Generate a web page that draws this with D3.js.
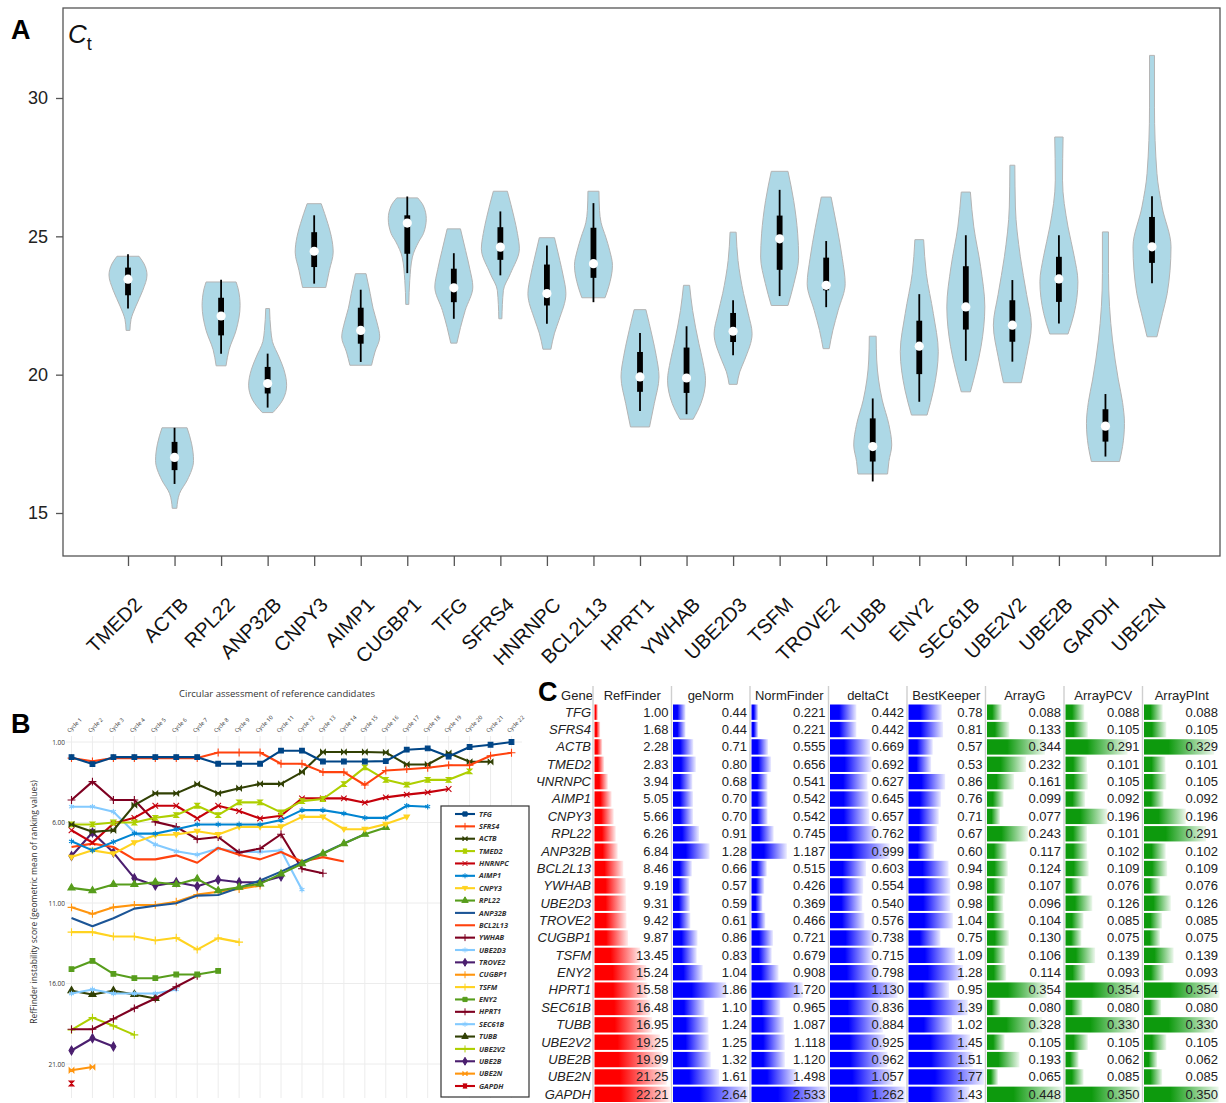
<!DOCTYPE html>
<html>
<head>
<meta charset="utf-8">
<script src="https://cdn.jsdelivr.net/npm/d3@7"></script>
<style>
  body { margin: 0; background: #fff; }
  svg { display: block; }
</style>
</head>
<body>
<svg id="fig" width="1226" height="1103"></svg>
<script>
// ---------- Panel A: Ct distributions ----------
const violinGenes = ["TMED2","ACTB","RPL22","ANP32B","CNPY3","AIMP1","CUGBP1","TFG","SFRS4","HNRNPC","BCL2L13",
  "HPRT1","YWHAB","UBE2D3","TSFM","TROVE2","TUBB","ENY2","SEC61B","UBE2V2","UBE2B","GAPDH","UBE2N"];
const ctTicks = [15, 20, 25, 30];
// outline of each violin: [Ct, relative width]
const violinProfiles = [
  [[21.6,.1],[22.0,.16],[22.45,.4],[23.05,.78],[23.6,1],[24.0,.85],[24.28,.58]],
  [[15.17,.12],[15.7,.26],[16.2,.68],[16.9,1],[17.5,.9],[18.08,.66]],
  [[20.32,.26],[20.9,.42],[21.6,.79],[22.5,1],[23.1,.9],[23.35,.79]],
  [[18.63,.28],[19.08,.79],[19.62,1],[20.2,.85],[20.64,.6],[21.2,.25],[21.6,.17],[22.39,.1]],
  [[23.15,.61],[23.77,.8],[24.43,1],[25.0,.9],[25.46,.72],[26.18,.37]],
  [[20.34,.57],[20.82,.75],[21.36,1],[21.9,.85],[22.4,.65],[22.93,.5],[23.65,.28]],
  [[22.54,.08],[23.4,.13],[24.25,.27],[24.8,.6],[25.1,.85],[25.64,1],[26.1,.85],[26.39,.55]],
  [[21.14,.16],[21.7,.35],[22.32,.6],[23.17,1],[23.8,.85],[24.49,.62],[25.27,.35]],
  [[22.02,.08],[23.05,.16],[23.65,.53],[24.55,1],[25.1,.9],[25.69,.72],[26.63,.37]],
  [[20.92,.21],[21.5,.4],[21.96,.63],[22.93,1],[23.6,.85],[24.13,.68],[24.95,.4]],
  [[22.78,.61],[23.17,.8],[23.95,1],[24.5,.85],[24.97,.65],[25.5,.4],[25.93,.32],[26.63,.29]],
  [[18.11,.5],[18.95,.75],[19.92,1],[20.7,.85],[21.36,.65],[22.35,.31]],
  [[18.39,.35],[18.95,.75],[19.8,1],[20.5,.85],[21.12,.65],[22.32,.32],[23.23,.16]],
  [[19.65,.21],[20.1,.35],[20.52,.6],[21.48,1],[22.2,.8],[22.93,.55],[24.13,.26],[25.15,.16]],
  [[22.5,.44],[23.29,.75],[24.25,1],[25.09,.95],[26.29,.74],[27.35,.44]],
  [[20.94,.16],[21.6,.35],[22.32,.63],[23.29,1],[24.2,.85],[25.33,.57],[26.42,.26]],
  [[16.41,.78],[16.86,.85],[17.46,1],[18.2,.85],[19.08,.5],[20.53,.21],[21.39,.18]],
  [[18.54,.41],[19.44,.75],[20.83,1],[22.21,.74],[23.66,.37],[24.88,.23]],
  [[19.38,.24],[20.2,.55],[21.01,.8],[22.45,1],[23.9,.78],[25.34,.42],[26.6,.24]],
  [[19.71,.47],[20.65,.75],[21.79,1],[22.9,.75],[24.26,.42],[26.06,.16],[27.57,.13]],
  [[21.47,.48],[22.21,.8],[23.36,1],[24.3,.8],[25.34,.48],[27.03,.19],[28.59,.22]],
  [[16.86,.74],[17.4,.9],[18.24,1],[19.0,.9],[19.81,.68],[21.25,.37],[23.66,.16],[25.16,.16]],
  [[21.37,.26],[22.2,.55],[22.93,.8],[24.62,1],[26.06,.53],[27.27,.26],[29.67,.13],[31.54,.13]]
];
const whiskerLow  = [22.39,16.05,20.76,18.81,23.29,20.46,23.67,22.02,23.59,21.84,22.62,18.69,18.57,20.7,22.84,22.44,16.14,19.02,20.5,20.47,21.85,17.04,23.3];
const whiskerHigh = [24.35,18.08,23.43,20.76,25.76,23.07,26.44,24.39,25.9,24.67,26.2,21.51,21.75,22.69,26.68,24.83,19.14,22.91,25.04,23.42,25.04,19.3,26.45];
const boxLow      = [22.87,16.55,21.42,19.32,23.89,21.12,24.37,22.62,24.15,22.5,23.5,19.38,19.34,21.18,23.79,23.05,16.86,20.02,21.63,21.19,22.63,17.58,24.04];
const boxHigh     = [23.87,17.57,22.78,20.28,25.15,22.42,25.76,23.83,25.33,23.98,25.31,20.82,20.98,22.23,25.75,24.23,18.42,21.95,23.92,22.69,24.26,18.75,25.7];
const medians     = [23.45,17.01,22.12,19.68,24.46,21.6,25.48,23.14,24.61,22.93,24.01,19.92,19.88,21.57,24.91,23.23,17.4,21.03,22.45,21.79,23.46,18.14,24.62];

// ---------- Panel B: circular assessment ----------
const legendGenes = ["TFG","SFRS4","ACTB","TMED2","HNRNPC","AIMP1","CNPY3","RPL22","ANP32B","BCL2L13","YWHAB",
  "UBE2D3","TROVE2","CUGBP1","TSFM","ENY2","HPRT1","SEC61B","TUBB","UBE2V2","UBE2B","UBE2N","GAPDH"];
const lineColors = ["#004586","#ff420e","#314004","#aecf00","#c5000b","#0084d1","#ffd320","#579d1c","#1c5596","#ff420e","#7e0021",
  "#83caff","#4b1f6f","#ff950e","#ffd320","#579d1c","#7e0021","#83caff","#314004","#aecf00","#4b1f6f","#ff950e","#c5000b"];
const markerKinds = ["square","plus","bowtie","hourglass","times","asterisk","tridown","triangle","none","none","plus",
  "asterisk","diamond","plus","plus","square","plus","asterisk","triangle","plus","diamond","bowtie","hourglass"];
const cycles = d3.range(1, 23);
const scoreTicks = [1, 6, 11, 16, 21];
// instability score per cycle (cycle 1 first), one row per legend gene
const cycleScores = [
  [1.94,2.37,1.94,1.94,1.94,1.94,1.94,2.35,2.35,2.35,1.54,1.54,2.21,2.21,2.21,2.19,1.48,1.4,1.9,1.31,1.17,1.0],
  [2.0,2.2,2.0,2.0,2.0,2.0,2.0,1.65,1.65,1.65,2.35,2.35,2.87,2.87,3.67,2.77,2.69,2.6,2.44,2.44,1.85,1.67],
  [6.12,6.58,6.48,4.92,4.19,4.19,3.62,4.19,3.87,3.6,3.6,2.87,1.62,1.62,1.62,1.65,2.4,2.4,1.69,2.23,2.23],
  [6.12,6.12,6.0,6.0,5.71,5.54,4.96,5.54,4.75,4.75,5.37,4.67,4.54,3.62,2.58,3.35,3.65,3.35,3.35,2.83],
  [6.48,7.25,6.06,5.71,4.96,4.96,5.75,4.96,5.29,5.75,5.58,4.5,4.5,4.5,4.77,4.44,4.27,4.13,3.92],
  [7.17,7.73,7.21,6.69,6.69,6.42,6.12,6.12,6.12,6.12,5.85,5.23,5.23,5.44,5.71,5.71,4.96,5.02],
  [8.15,7.73,7.94,7.25,6.79,6.75,6.54,6.75,6.27,6.27,6.27,5.65,5.65,6.42,6.42,6.1,5.65],
  [10.06,10.23,9.85,9.85,9.71,9.85,9.5,10.23,10.02,9.81,9.19,8.56,7.94,7.31,6.73,6.31],
  [11.93,12.45,11.95,11.35,11.17,11.02,10.54,10.5,10.05,9.6,9.05,8.45,7.9,7.3,6.72],
  [7.52,7.31,7.52,8.29,8.29,8.04,8.5,7.58,8.0,8.29,7.83,8.42,8.15,8.42],
  [4.6,3.46,4.6,4.6,5.96,6.27,7.04,6.9,7.87,7.62,6.73,8.87,9.15],
  [5.02,5.02,5.33,6.62,7.37,7.79,8.0,7.62,7.83,7.83,7.73,10.17],
  [8.08,6.62,7.87,9.46,9.92,9.71,9.96,9.56,9.71,9.71,9.35],
  [11.27,11.68,11.27,11.12,11.12,10.92,10.48,10.3,10.13,9.92],
  [12.81,12.81,13.08,13.08,13.33,13.16,13.9,13.18,13.43],
  [15.11,14.6,15.4,15.67,15.67,15.44,15.44,15.22],
  [18.84,18.84,18.2,17.54,16.93,16.2,15.53],
  [16.62,16.37,16.62,16.62,16.62,16.37],
  [16.45,16.68,16.45,16.68,16.93],
  [18.88,18.12,18.63,19.19],
  [20.16,19.4,19.91],
  [21.39,21.19],
  [22.21]
];

// ---------- Panel C: ranking table ----------
const tableGenes = ["TFG","SFRS4","ACTB","TMED2","ЧNRNPC","AIMP1","CNPY3","RPL22","ANP32B","BCL2L13","YWHAB","UBE2D3",
  "TROVE2","CUGBP1","TSFM","ENY2","HPRT1","SEC61B","TUBB","UBE2V2","UBE2B","UBE2N","GAPDH"];
const methods = ["RefFinder","geNorm","NormFinder","deltaCt","BestKeeper","ArrayG","ArrayPCV","ArrayPInt"];
const methodDigits = [2, 2, 3, 3, 2, 3, 3, 3];
const methodColors = ["red","blue","blue","blue","blue","green","green","green"];
const refFinder  = [1.00,1.68,2.28,2.83,3.94,5.05,5.66,6.26,6.84,8.46,9.19,9.31,9.42,9.87,13.45,15.24,15.58,16.48,16.95,19.25,19.99,21.25,22.21];
const geNorm     = [0.44,0.44,0.71,0.80,0.68,0.70,0.70,0.91,1.28,0.66,0.57,0.59,0.61,0.86,0.83,1.04,1.86,1.10,1.24,1.25,1.32,1.61,2.64];
const normFinder = [0.221,0.221,0.555,0.656,0.541,0.542,0.542,0.745,1.187,0.515,0.426,0.369,0.466,0.721,0.679,0.908,1.720,0.965,1.087,1.118,1.120,1.498,2.533];
const deltaCt    = [0.442,0.442,0.669,0.692,0.627,0.645,0.657,0.762,0.999,0.603,0.554,0.540,0.576,0.738,0.715,0.798,1.130,0.836,0.884,0.925,0.962,1.057,1.262];
const bestKeeper = [0.78,0.81,0.57,0.53,0.86,0.76,0.71,0.67,0.60,0.94,0.98,0.98,1.04,0.75,1.09,1.28,0.95,1.39,1.02,1.45,1.51,1.77,1.43];
const arrayG     = [0.088,0.133,0.344,0.232,0.161,0.099,0.077,0.243,0.117,0.124,0.107,0.096,0.104,0.130,0.106,0.114,0.354,0.080,0.328,0.105,0.193,0.065,0.448];
const arrayPCV   = [0.088,0.105,0.291,0.101,0.105,0.092,0.196,0.101,0.102,0.109,0.076,0.126,0.085,0.075,0.139,0.093,0.354,0.080,0.330,0.105,0.062,0.085,0.350];
const arrayPInt  = [0.088,0.105,0.329,0.101,0.105,0.092,0.196,0.291,0.102,0.109,0.076,0.126,0.085,0.075,0.139,0.093,0.354,0.080,0.330,0.105,0.062,0.085,0.350];
const methodValues = [refFinder, geNorm, normFinder, deltaCt, bestKeeper, arrayG, arrayPCV, arrayPInt];

const svg = d3.select("#fig");
const sans = "'Liberation Sans', Arial, sans-serif";

function panelLetter(txt, x, y) {
  svg.append("text").attr("x", x).attr("y", y)
    .style("font-family", sans).style("font-size", "27px").style("font-weight", "bold")
    .text(txt);
}

// ================= Panel A =================
const gA = svg.append("g");
const xA = d3.scalePoint().domain(violinGenes).range([128, 1152]);
const yA = d3.scaleLinear().domain([15, 30]).range([513, 98]);
const halfMax = 19;

gA.append("rect")
  .attr("x", 63).attr("y", 8).attr("width", 1157).attr("height", 548)
  .attr("fill", "none").attr("stroke", "#555").attr("stroke-width", 1.3);

const leftAxis = gA.append("g")
  .attr("transform", "translate(63,0)")
  .call(d3.axisLeft(yA).tickValues(ctTicks).tickSize(7).tickPadding(8));
leftAxis.select(".domain").remove();
leftAxis.selectAll("line").attr("stroke", "#555").attr("stroke-width", 1.3);
leftAxis.selectAll("text").style("font-family", sans).style("font-size", "18px").attr("fill", "#222");

const bottomAxis = gA.append("g")
  .attr("transform", "translate(0,556)")
  .call(d3.axisBottom(xA).tickSize(10).tickFormat(""));
bottomAxis.select(".domain").remove();
bottomAxis.selectAll("line").attr("stroke", "#555").attr("stroke-width", 1.3);

gA.selectAll(".glabel").data(violinGenes).enter().append("text")
  .attr("class", "glabel")
  .attr("transform", d => `translate(${xA(d) + 15},606) rotate(-45)`)
  .attr("text-anchor", "end")
  .style("font-family", sans).style("font-size", "20px").attr("fill", "#111")
  .text(d => d);

const violinArea = d3.area()
  .curve(d3.curveMonotoneY)
  .y(d => yA(d[0]))
  .x0(d => -d[1] * halfMax)
  .x1(d => d[1] * halfMax);

violinGenes.forEach((gene, i) => {
  const g = gA.append("g").attr("transform", `translate(${xA(gene)},0)`);
  const pts = violinProfiles[i].slice().sort((a, b) => b[0] - a[0]);
  g.append("path").attr("d", violinArea(pts))
    .attr("fill", "#add8e6").attr("stroke", "#b4b4b4").attr("stroke-width", 1);
  g.append("line")
    .attr("x1", 0).attr("x2", 0)
    .attr("y1", yA(whiskerLow[i])).attr("y2", yA(whiskerHigh[i]))
    .attr("stroke", "#000").attr("stroke-width", 1.8);
  g.append("rect")
    .attr("x", -2.9).attr("width", 5.8)
    .attr("y", yA(boxHigh[i])).attr("height", yA(boxLow[i]) - yA(boxHigh[i]))
    .attr("fill", "#000");
  g.append("circle").attr("cx", 0).attr("cy", yA(medians[i])).attr("r", 4.6).attr("fill", "#fff");
});

const ctLabel = gA.append("text").attr("x", 68).attr("y", 43)
  .style("font-family", sans).style("font-size", "26px").attr("fill", "#111");
ctLabel.append("tspan").style("font-style", "italic").text("C");
ctLabel.append("tspan").attr("dy", 7).style("font-size", "18px").text("t");

panelLetter("A", 11, 39);

// ================= Panel B =================
const gB = svg.append("g");
const xB = d3.scaleLinear().domain([1, 22]).range([71.5, 511.5]);
const yB = d3.scaleLinear().domain([1, 21]).range([742, 1064]);
const smallFont = "'Open Sans', 'DejaVu Sans', sans-serif";

gB.append("text").attr("x", 277).attr("y", 697).attr("text-anchor", "middle")
  .style("font-family", smallFont).style("font-size", "9.5px").attr("fill", "#333")
  .text("Circular assessment of reference candidates");

gB.append("g").selectAll("line").data(cycles).enter().append("line")
  .attr("x1", d => xB(d)).attr("x2", d => xB(d))
  .attr("y1", 736).attr("y2", 1098)
  .attr("stroke", "#ececec").attr("stroke-width", 1);
gB.append("g").selectAll("line").data(scoreTicks).enter().append("line")
  .attr("x1", 66).attr("x2", 522)
  .attr("y1", d => yB(d)).attr("y2", d => yB(d))
  .attr("stroke", "#ececec").attr("stroke-width", 1);

const yAxisB = gB.append("g").attr("transform", "translate(68,0)")
  .call(d3.axisLeft(yB).tickValues(scoreTicks).tickSize(0).tickPadding(3).tickFormat(d3.format(".2f")));
yAxisB.select(".domain").remove();
yAxisB.selectAll("text").style("font-family", smallFont).style("font-size", "6.5px").attr("fill", "#333");

gB.append("text")
  .attr("transform", "translate(37,902) rotate(-90)")
  .attr("text-anchor", "middle")
  .style("font-family", smallFont).style("font-size", "8.5px").attr("fill", "#333")
  .text("RefFinder instability score (geometric mean of ranking values)");

gB.append("g").selectAll("text").data(cycles).enter().append("text")
  .attr("transform", d => `translate(${xB(d) - 2},733) rotate(-45)`)
  .style("font-family", smallFont).style("font-size", "5.6px").attr("fill", "#333")
  .text(d => "Cycle " + d);

const bowtie = { draw(ctx, size) { const r = Math.sqrt(size) / 2;
  ctx.moveTo(-r, -r); ctx.lineTo(r, r); ctx.lineTo(r, -r); ctx.lineTo(-r, r); ctx.closePath(); } };
const hourglass = { draw(ctx, size) { const r = Math.sqrt(size) / 2;
  ctx.moveTo(-r, -r); ctx.lineTo(r, -r); ctx.lineTo(-r, r); ctx.lineTo(r, r); ctx.closePath(); } };
const tridown = { draw(ctx, size) { const r = Math.sqrt(size) / 1.7;
  ctx.moveTo(-r, -r * 0.7); ctx.lineTo(r, -r * 0.7); ctx.lineTo(0, r); ctx.closePath(); } };
const symbolTypes = {
  square: d3.symbolSquare, plus: d3.symbolPlus, times: d3.symbolTimes, asterisk: d3.symbolAsterisk,
  triangle: d3.symbolTriangle, diamond: d3.symbolDiamond, bowtie: bowtie, hourglass: hourglass, tridown: tridown
};
function markerPath(kind, size) {
  if (kind === "none") return null;
  return d3.symbol().type(symbolTypes[kind]).size(size)();
}

const lineB = d3.line().x((d, i) => xB(i + 1)).y(d => yB(d));
// draw from the bottom of the legend upwards so the top genes sit on top
for (let k = legendGenes.length - 1; k >= 0; k--) {
  const col = lineColors[k];
  const g = gB.append("g");
  g.append("path").datum(cycleScores[k]).attr("d", lineB)
    .attr("fill", "none").attr("stroke", col).attr("stroke-width", 2.1).attr("stroke-linejoin", "round");
  const mp = markerPath(markerKinds[k], 22);
  if (mp) {
    g.selectAll("path.mk").data(cycleScores[k]).enter().append("path")
      .attr("class", "mk")
      .attr("transform", (d, i) => `translate(${xB(i + 1)},${yB(d)})`)
      .attr("d", mp).attr("fill", col).attr("stroke", col).attr("stroke-width", 1.1);
  }
}

// legend
gB.append("rect").attr("x", 441).attr("y", 806).attr("width", 88).attr("height", 291)
  .attr("fill", "#fff").attr("stroke", "#333").attr("stroke-width", 1.2);
const legY = d3.scaleLinear().domain([0, legendGenes.length - 1]).range([814, 1086]);
legendGenes.forEach((gene, k) => {
  const y = legY(k);
  gB.append("line").attr("x1", 455).attr("x2", 475).attr("y1", y).attr("y2", y)
    .attr("stroke", lineColors[k]).attr("stroke-width", 2.1);
  const mp = markerPath(markerKinds[k], 18);
  if (mp) gB.append("path").attr("transform", `translate(465,${y})`).attr("d", mp)
    .attr("fill", lineColors[k]).attr("stroke", lineColors[k]).attr("stroke-width", 1);
  gB.append("text").attr("x", 479).attr("y", y + 2.6)
    .style("font-family", smallFont).style("font-size", "7.4px").style("font-style", "italic")
    .style("font-weight", "bold").attr("fill", "#333")
    .text(gene);
});

panelLetter("B", 11, 733);

// ================= Panel C =================
const gC = svg.append("g");
const tableFont = "'Liberation Sans Narrow', 'Liberation Sans', sans-serif";
const xC = d3.scaleBand().domain(methods).range([593, 1221]);
const yC = d3.scaleBand().domain(tableGenes).range([703.5, 1103]);

const defs = svg.append("defs");
const gradColors = { red: "#ff0000", blue: "#0000ff", green: "#0d9a0d" };
Object.entries(gradColors).forEach(([name, c]) => {
  const lg = defs.append("linearGradient").attr("id", "grad-" + name)
    .attr("x1", "0%").attr("x2", "100%").attr("y1", "0%").attr("y2", "0%");
  lg.append("stop").attr("offset", "0%").attr("stop-color", c);
  lg.append("stop").attr("offset", "35%").attr("stop-color", c);
  lg.append("stop").attr("offset", "100%").attr("stop-color", d3.interpolateRgb(c, "#fff")(0.93));
});

methods.forEach((m, j) => {
  const vals = methodValues[j];
  const wScale = d3.scaleLinear().domain([0, d3.max(vals)]).range([0, xC.bandwidth() - 3]);
  const x0 = xC(m) + 1.5;
  gC.selectAll(null).data(vals).enter().append("rect")
    .attr("x", x0)
    .attr("y", (d, i) => yC(tableGenes[i]) + 1)
    .attr("width", d => wScale(d))
    .attr("height", yC.bandwidth() - 2)
    .attr("fill", `url(#grad-${methodColors[j]})`);
  gC.selectAll(null).data(vals).enter().append("text")
    .attr("x", xC(m) + xC.bandwidth() - 3)
    .attr("y", (d, i) => yC(tableGenes[i]) + yC.bandwidth() / 2 + 4.4)
    .attr("text-anchor", "end")
    .style("font-family", tableFont).style("font-size", "13px").attr("fill", "#222")
    .text(d => d.toFixed(methodDigits[j]));
  gC.append("text")
    .attr("x", xC(m) + xC.bandwidth() / 2).attr("y", 700)
    .attr("text-anchor", "middle")
    .style("font-family", tableFont).style("font-size", "13px").attr("fill", "#222")
    .text(m);
});

gC.append("text").attr("x", 577).attr("y", 700).attr("text-anchor", "middle")
  .style("font-family", tableFont).style("font-size", "13px").attr("fill", "#222").text("Gene");

gC.selectAll(null).data(tableGenes).enter().append("text")
  .attr("x", 591)
  .attr("y", d => yC(d) + yC.bandwidth() / 2 + 4.4)
  .attr("text-anchor", "end")
  .style("font-family", tableFont).style("font-size", "13px").style("font-style", "italic").attr("fill", "#222")
  .text(d => d);

gC.selectAll(null).data(methods).enter().append("line")
  .attr("x1", d => xC(d)).attr("x2", d => xC(d))
  .attr("y1", 686).attr("y2", 1103)
  .attr("stroke", "#cfcfcf").attr("stroke-width", 1.4);

panelLetter("C", 538, 701);
</script>
</body>
</html>
